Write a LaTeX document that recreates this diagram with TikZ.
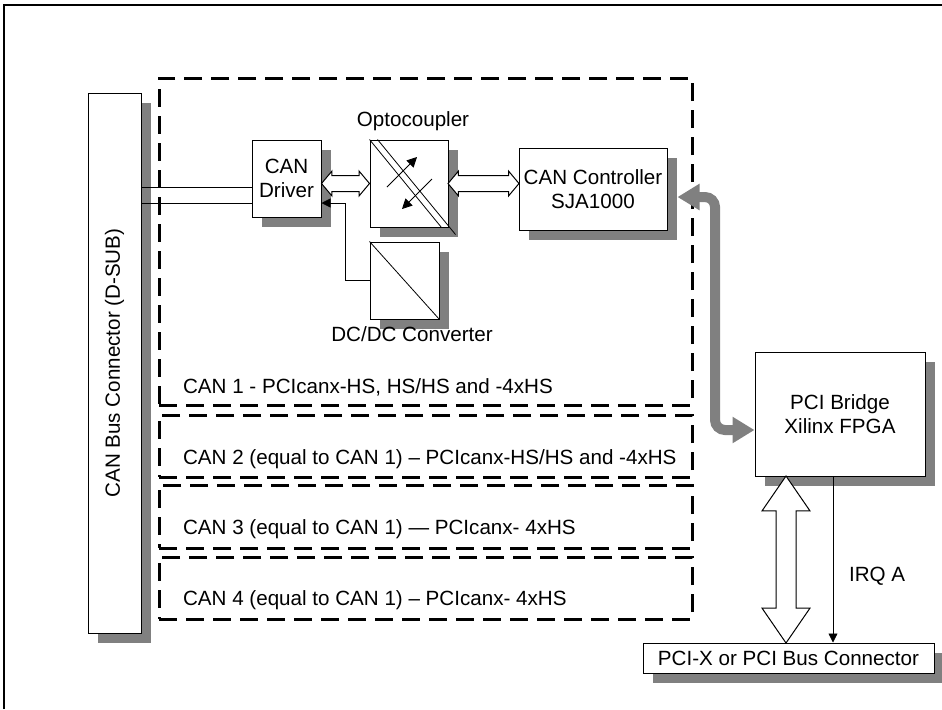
\documentclass[tikz,border=0pt]{standalone}
\usepackage{fontspec}
\setmainfont{Liberation Sans}
\usetikzlibrary{arrows.meta,shadows,shapes.arrows,calc}

\begin{document}
\begin{tikzpicture}[x=0.5pt,y=-0.5pt,font=\fontsize{10.3}{12}\selectfont]
\tikzset{blk/.style={draw,fill=white,line width=0.5pt,inner sep=0pt,align=center,
    drop shadow={shadow xshift=5pt,shadow yshift=-5pt,fill=black!50,opacity=1}},
  grp/.style={draw,line width=1.5pt,dash pattern=on 9pt off 4.5pt,inner sep=0pt,minimum width=266.5pt},
  hollow/.style={double arrow,draw,fill=white,line width=0.5pt,inner sep=0pt,inner ysep=3.75pt,
    double arrow head extend=2.25pt,double arrow tip angle=100,minimum height=#1},
  tip/.style={-{Triangle[length=4.5pt,width=4.5pt]}}}
\useasboundingbox (0,0) rectangle (942,709);
% outer frame, only top and left edge are visible
\draw[line width=1pt] (4,709) -- (4,5) -- (942,5);
% the four channels
\node[grp,minimum height=163.5pt] (can1) at (425.5,241.5) {};
\node[grp,minimum height=31pt] (can2) at (425.5,446) {};
\node[grp,minimum height=31.5pt] (can3) at (425.5,516.5) {};
\node[grp,minimum height=31pt] (can4) at (425.5,588) {};
\node[anchor=base west] (can1txt) at (176,393.5) {CAN 1 - PCIcanx-HS, HS/HS and -4xHS};
\node[anchor=base west] (can2txt) at (176,464.5) {CAN 2 (equal to CAN 1) – PCIcanx-HS/HS and -4xHS};
\node[anchor=base west] (can3txt) at (176,534.5) {CAN 3 (equal to CAN 1) — PCIcanx- 4xHS};
\node[anchor=base west] (can4txt) at (176,605.5) {CAN 4 (equal to CAN 1) – PCIcanx- 4xHS};
% blocks
\node[blk,minimum width=26.5pt,minimum height=270pt] (dsub) at (114.5,363) {};
\node[rotate=90] (dsubtxt) at (dsub) {CAN Bus Connector (D-SUB)};
\node[blk,minimum width=34.5pt,minimum height=38.5pt] (drv) at (286.5,178.5) {CAN\\Driver};
\node[blk,minimum width=39pt,minimum height=43.5pt] (opto) at (409,183.5) {};
\node (optotxt) at (413,121) {Optocoupler};
\node[blk,minimum width=34.5pt,minimum height=38.5pt] (dcdc) at (404.5,280.5) {};
\node (dcdctxt) at (412,334) {DC/DC Converter};
\node[blk,minimum width=74pt,minimum height=41pt] (ctrl) at (593,189) {CAN Controller\\SJA1000};
\node[blk,minimum width=85pt,minimum height=62pt] (bridge) at (840,414) {PCI Bridge\\Xilinx FPGA};
\node[blk,minimum width=145.5pt,minimum height=15pt] (pcicon) at (788.5,658) {PCI-X or PCI Bus Connector};
% symbols inside the optocoupler and converter
\draw (opto.north west) -- ([xshift=-3.5pt]opto.south east);
\draw ([xshift=4pt]opto.north west) -- ([shift={(3.5pt,-3.5pt)}]opto.south east);
\draw[-{Triangle[length=5pt,width=5pt]}] ([shift={(-11pt,-1.75pt)}]opto.center) -- ++(15pt,15pt);
\draw[-{Triangle[length=5pt,width=5pt]}] ([shift={(11.5pt,2.25pt)}]opto.center) -- ++(-15pt,-15pt);
\draw (dcdc.north west) -- (dcdc.south east);
% connections
\foreach \dy in {4.25pt,12.25pt} {
  \coordinate (wire) at ([yshift=-\dy]drv.west);
  \draw (wire) -- (wire -| dsub.east);
}
\draw[tip] (dcdc.west) -- ++(-12pt,0) |- ([yshift=-12.25pt]drv.east);
\node[hollow=24pt] (bus1) at ($(drv.east |- opto)!.5!(opto.west)$) {};
\node[hollow=35.5pt] (bus2) at ($(opto.east)!.5!(opto.east -| ctrl.west)$) {};
\coordinate (bend) at (715,0);
\coordinate (ctrlport) at ([shift={(5pt,-4pt)}]ctrl.east);
\coordinate (brport) at ([yshift=-8pt]bridge.west);
\draw[line width=5pt,draw=black!50,rounded corners=5pt,
  {Triangle[length=11pt,width=12.5pt]}-{Triangle[length=11pt,width=12.5pt]}]
  (ctrlport) -| (bend |- brport) -- (brport);
\coordinate (pcitop) at ([xshift=-27pt]bridge.south);
\node[hollow=83.5pt,inner ysep=4.75pt,double arrow head extend=7pt,double arrow tip angle=69,rotate=90]
  (bus3) at ($(pcitop)!.5!(pcitop |- pcicon.north)$) {};
\coordinate (irqtop) at ([xshift=-3.5pt]bridge.south);
\draw[tip] (irqtop) -- (irqtop |- pcicon.north);
\node[anchor=base west] (irqtxt) at (842,581) {IRQ A};
\end{tikzpicture}
\end{document}
